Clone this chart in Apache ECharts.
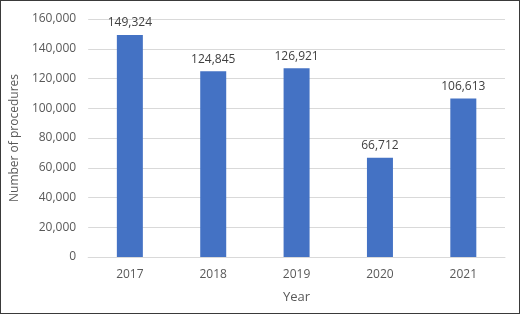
<!DOCTYPE html>
<html>
  <head>
    <meta charset="utf-8">
    <title>ECharts</title>
    <style type="text/css">
    html,body{margin:0;padding:0;background:#fff;}
    #chart{width:518px;height:312px;border:1px solid #3a3a3a;}
    </style>
    <script src="https://cdn.jsdelivr.net/npm/echarts@6/dist/echarts.min.js"></script>
  </head>
  <body>
    <div id="chart"></div>
    <script type="text/javascript">
      var years = ['2017', '2018', '2019', '2020', '2021'];
      var procedures = [149324, 124845, 126921, 66712, 106613];

      var fmt = function (v) { return Number(v).toLocaleString('en-US'); };
      var font = '"Open Sans", "Noto Sans", sans-serif';

      var myChart = echarts.init(document.getElementById('chart'));
      var option = {
        animation: false,
        textStyle: { fontFamily: font },
        grid: { left: 87, right: 14, top: 18, bottom: 56 },
        xAxis: {
          type: 'category',
          data: years,
          name: 'Year',
          nameLocation: 'middle',
          nameGap: 34,
          nameTextStyle: { color: '#595959', fontSize: 13, fontFamily: font },
          axisLine: { lineStyle: { color: '#d9d9d9' } },
          axisTick: { show: false },
          axisLabel: { color: '#595959', fontSize: 12, margin: 12, fontFamily: font }
        },
        yAxis: {
          type: 'value',
          min: 0,
          max: 160000,
          interval: 20000,
          name: 'Number of procedures',
          nameLocation: 'middle',
          nameGap: 57,
          nameTextStyle: { color: '#595959', fontSize: 12, fontFamily: font },
          axisLine: { show: false },
          axisTick: { show: false },
          splitLine: { lineStyle: { color: '#d9d9d9' } },
          axisLabel: { color: '#595959', fontSize: 12, margin: 12, fontFamily: font, formatter: fmt }
        },
        series: [
          {
            name: 'Procedures',
            type: 'bar',
            data: procedures,
            barWidth: 26,
            itemStyle: { color: '#4472C4' },
            label: {
              show: true,
              position: 'top',
              distance: 6,
              color: '#404040',
              fontSize: 12,
              fontFamily: font,
              formatter: function (p) { return fmt(p.value); }
            }
          }
        ]
      };
      myChart.setOption(option);
    </script>
  </body>
</html>
